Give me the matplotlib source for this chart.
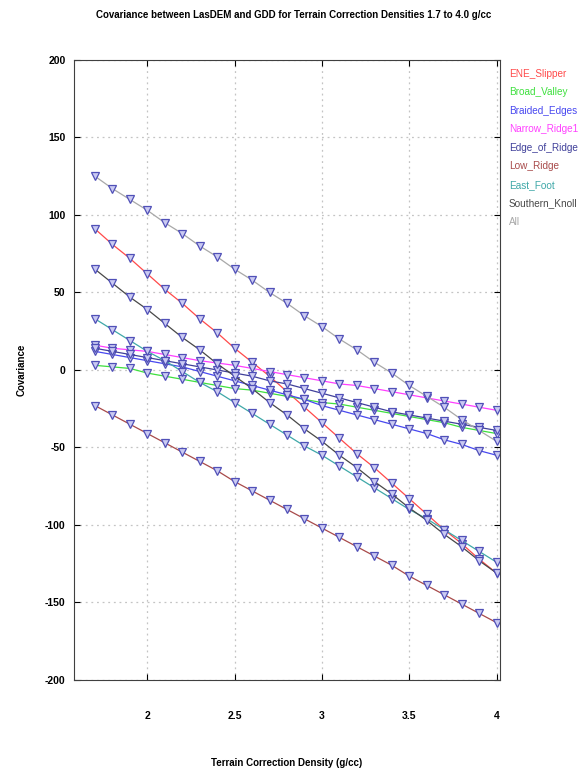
import numpy as np
import matplotlib.pyplot as plt
from matplotlib.lines import Line2D

plt.rcParams['font.family'] = ['Liberation Sans', 'DejaVu Sans']
plt.rcParams['axes.unicode_minus'] = False

# terrain correction densities
density = [1.7, 1.8, 1.9, 2.0, 2.1, 2.2, 2.3, 2.4, 2.5, 2.6, 2.7, 2.8,
           2.9, 3.0, 3.1, 3.2, 3.3, 3.4, 3.5, 3.6, 3.7, 3.8, 3.9, 4.0]

ene_slipper = [91, 81, 72, 62, 52, 43, 33, 24, 14, 5, -4, -14,
               -24, -34, -44, -54, -63, -73, -83, -93, -103, -112, -122, -131]
broad_valley = [3, 2, 1, -2, -4, -6, -8, -10, -12, -13, -15, -17,
                -19, -21, -22, -24, -26, -28, -30, -32, -34, -37, -39, -41]
braided_edges = [12, 10, 8, 6, 4, 2, -1, -4, -7, -10, -13, -16,
                 -19, -23, -26, -29, -32, -35, -38, -41, -45, -48, -52, -55]
narrow_ridge1 = [16, 14, 13, 12, 10, 8, 6, 4.5, 3, 1, -1, -3,
                 -5, -7, -9, -10, -12, -14, -16, -18, -20, -22, -24, -26]
edge_of_ridge = [14, 12, 10, 8, 6, 4, 2, 0, -2, -4, -7, -9,
                 -12, -15, -18, -21, -24, -27, -29, -31, -33, -35, -37, -39]
low_ridge = [-23, -29, -35, -41, -47, -53, -59, -65, -72, -78, -84, -90,
             -96, -102, -108, -114, -120, -126, -133, -139, -145, -151, -157, -163]
east_foot = [33, 26, 19, 12, 6, -1, -8, -14, -21, -28, -35, -42,
             -49, -55, -62, -69, -76, -83, -90, -96, -103, -110, -117, -124]
southern_knoll = [65, 56, 47, 39, 30, 21, 13, 4, -4, -12, -21, -29,
                  -38, -46, -55, -63, -72, -80, -89, -97, -106, -114, -123, -131]
all_sites = [125, 117, 110, 103, 95, 88, 80, 73, 65, 58, 50, 43,
             35, 28, 20, 13, 5, -2, -10, -17, -24, -32, -39, -46]

names = ['ENE_Slipper', 'Broad_Valley', 'Braided_Edges', 'Narrow_Ridge1',
         'Edge_of_Ridge', 'Low_Ridge', 'East_Foot', 'Southern_Knoll', 'All']
series = [ene_slipper, broad_valley, braided_edges, narrow_ridge1,
          edge_of_ridge, low_ridge, east_foot, southern_knoll, all_sites]
colors = ['#ff4a4a', '#3ee03e', '#4848f0', '#ff40ff',
          '#40409a', '#a84a4a', '#3fa8a8', '#484848', '#a8a8a8']

fig = plt.figure(figsize=(5.81, 7.72), dpi=100)
ax = fig.add_axes([0.1274, 0.1192, 0.7332, 0.8031])

for s, c in zip(series, colors):
    ax.plot(density, s, color=c, lw=0.9, marker='v', markersize=6,
            markerfacecolor='#cacaf2', markeredgecolor='#5050b8',
            markeredgewidth=0.9)

ax.set_xlim(1.58, 4.02)
ax.set_ylim(-200, 200)
ax.set_xticks([2, 2.5, 3, 3.5, 4])
ax.set_xticklabels(['2', '2.5', '3', '3.5', '4'])
ax.set_yticks(np.arange(-200, 201, 50))
ax.grid(True, linestyle=(0, (1.5, 3)), color='#c4c4c4', lw=0.9)
ax.tick_params(direction='in', top=True, right=True, length=4, width=0.8)
ax.tick_params(axis='x', pad=22, labelsize=7.5)
ax.tick_params(axis='y', pad=6, labelsize=7.5)
for lab in ax.get_xticklabels() + ax.get_yticklabels():
    lab.set_fontweight('bold')
for sp in ax.spines.values():
    sp.set_linewidth(0.8)
    sp.set_color('#404040')

ax.set_title('Covariance between LasDEM and GDD for Terrain Correction Densities 1.7 to 4.0 g/cc',
             fontsize=7, fontweight='bold', pad=30, x=0.515)
ax.set_xlabel('Terrain Correction Density (g/cc)', fontsize=7, fontweight='bold', labelpad=27)
ax.set_ylabel('Covariance', fontsize=7, fontweight='bold', labelpad=13)

handles = [Line2D([], [], color=c, linestyle='none') for c in colors]
ax.legend(handles, names, loc='upper left', bbox_to_anchor=(1.0, 1.0),
          frameon=False, handlelength=0, handletextpad=0, labelcolor='linecolor',
          fontsize=7.2, labelspacing=0.85, borderaxespad=0.5)

plt.savefig('out.png', dpi=100)
